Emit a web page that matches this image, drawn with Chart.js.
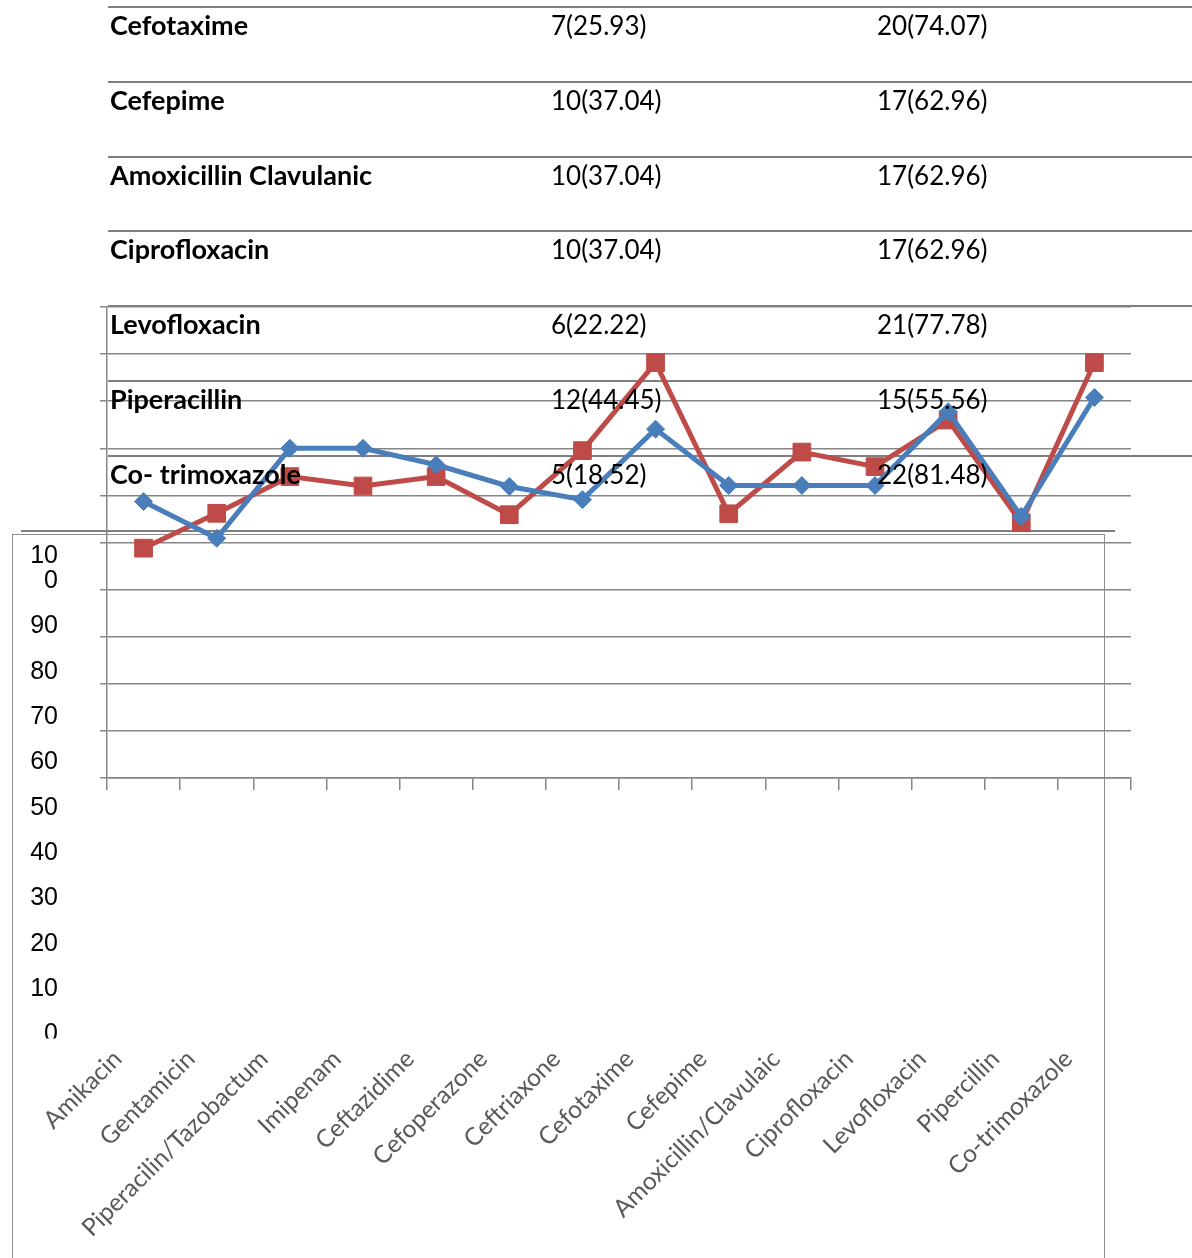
<!DOCTYPE html>
<html>
<head>
<meta charset="utf-8">
<title>Antibiotic resistance</title>
<script src="https://cdn.jsdelivr.net/npm/chart.js@4.4.1/dist/chart.umd.min.js"></script>
<style>
  body { margin: 0; width: 1192px; height: 1258px; overflow: hidden; background: #fff; position: relative; }
  .layer { position: absolute; left: 0; top: 0; width: 1192px; height: 1258px; }
  .rule { position: absolute; height: 2px; background: #7f7f7f; }
  .cell { position: absolute; font-family: Lato, sans-serif; font-size: 26px; line-height: 1; color: #000; white-space: nowrap; z-index: 5; }
  .name { font-weight: bold; font-size: 27px; }
  #frame { position: absolute; left: 12px; top: 534px; width: 1091px; height: 760px; border: 1.5px solid #8e8e8e; }
  #tableEnd { position: absolute; left: 21px; top: 530px; width: 1094px; height: 1.5px; background: #7f7f7f; }
</style>
</head>
<body>
<div id="frame"></div>
<div id="tableEnd"></div>
<div id="table"></div>
<div class="layer"><canvas id="plotChart"></canvas></div>
<div class="layer"><canvas id="axisChart"></canvas></div>

<script>
// --- table rows ---
const tableDrugs = ['Cefotaxime', 'Cefepime', 'Amoxicillin Clavulanic', 'Ciprofloxacin', 'Levofloxacin', 'Piperacillin', 'Co- trimoxazole'];
const tableSensitive = ['7(25.93)', '10(37.04)', '10(37.04)', '10(37.04)', '6(22.22)', '12(44.45)', '5(18.52)'];
const tableResistant = ['20(74.07)', '17(62.96)', '17(62.96)', '17(62.96)', '21(77.78)', '15(55.56)', '22(81.48)'];

// --- chart data ---
const drugs = ['Amikacin', 'Gentamicin', 'Piperacilin/Tazobactum', 'Imipenam', 'Ceftazidime', 'Cefoperazone',
  'Ceftriaxone', 'Cefotaxime', 'Cefepime', 'Amoxicillin/Clavulaic', 'Ciprofloxacin', 'Levofloxacin',
  'Pipercillin', 'Co-trimoxazole'];
const seriesBlue = [58.7, 50.9, 70, 70, 66.5, 61.9, 59.1, 74.07, 62.1, 62.1, 62.1, 77.78, 55.56, 80.8];
const seriesRed = [48.8, 56.2, 64, 62, 64, 55.9, 69.5, 88.2, 56.1, 69.2, 66.1, 76, 54.2, 88.2];
const yMin = 0;
const yMax = 100;
const yStep = 10;

// table rows: rule on top, then the three cells
const table = document.getElementById('table');
tableDrugs.forEach((name, i) => {
  const top = 6 + i * 74.8;
  const rule = document.createElement('div');
  rule.className = 'rule';
  rule.style.cssText = `left:108px;top:${top}px;width:1084px`;
  table.appendChild(rule);
  [[name, 110, 'cell name'], [tableSensitive[i], 551, 'cell'], [tableResistant[i], 877, 'cell']].forEach(([txt, x, cls]) => {
    const d = document.createElement('div');
    d.className = cls;
    d.textContent = txt;
    d.style.left = x + 'px';
    d.style.top = (top + (cls === 'cell' ? 6 : 5)) + 'px';
    table.appendChild(d);
  });
});

const gridGrey = '#868686';

// plot: gridlines, axis lines and the two series
new Chart(document.getElementById('plotChart'), {
  type: 'line',
  data: {
    labels: drugs,
    datasets: [
      {
        data: seriesBlue,
        borderColor: '#4a7ebb',
        backgroundColor: '#4a7ebb',
        borderWidth: 5,
        pointStyle: 'rectRot',
        pointRadius: 9,
        pointBorderWidth: 1,
        tension: 0
      },
      {
        data: seriesRed,
        borderColor: '#be4b48',
        backgroundColor: '#be4b48',
        borderWidth: 5,
        pointStyle: 'rect',
        pointRadius: 12.5,
        pointBorderWidth: 1,
        tension: 0
      }
    ]
  },
  options: {
    responsive: true,
    maintainAspectRatio: false,
    animation: false,
    layout: { padding: { left: 100, top: 307, right: 61, bottom: 468 } },
    plugins: { legend: { display: false }, tooltip: { enabled: false } },
    scales: {
      x: {
        offset: true,
        grid: { offset: true, drawOnChartArea: false, tickLength: 12, color: gridGrey, lineWidth: 1.5 },
        border: { color: gridGrey, width: 1.5 },
        ticks: { display: false },
        afterFit: (s) => { s.height = 12; }
      },
      y: {
        min: yMin,
        max: yMax,
        grid: { tickLength: 7, color: gridGrey, lineWidth: 1.5 },
        border: { color: gridGrey, width: 1.5 },
        ticks: { display: false, stepSize: yStep },
        afterFit: (s) => { s.width = 7; }
      }
    }
  }
});

// the bottom part of the "0" tick label is hidden by the chart frame
const clipZeroLabel = {
  id: 'clipZeroLabel',
  beforeDraw(chart) {
    const ys = chart.scales.y;
    const ctx = chart.ctx;
    ctx.save();
    ctx.beginPath();
    ctx.rect(0, 0, chart.width, chart.height);
    ctx.rect(ys.left, ys.bottom + 4, ys.width, 12);
    ctx.clip('evenodd');
  },
  afterDraw(chart) {
    chart.ctx.restore();
  }
};

// axis labels, drawn as a second chart with no visible lines
new Chart(document.getElementById('axisChart'), {
  type: 'line',
  data: { labels: drugs, datasets: [] },
  plugins: [clipZeroLabel],
  options: {
    responsive: true,
    maintainAspectRatio: false,
    animation: false,
    layout: { padding: { left: 21, top: 581, right: 87, bottom: 0 } },
    plugins: { legend: { display: false }, tooltip: { enabled: false } },
    scales: {
      x: {
        offset: true,
        grid: { display: false, drawTicks: false, tickLength: 0 },
        border: { display: false },
        ticks: {
          autoSkip: false,
          minRotation: 45,
          maxRotation: 45,
          padding: 10,
          color: '#595959',
          font: { family: 'Lato', size: 24.5 }
        },
        afterFit: (s) => { s.height = 223.6; }
      },
      y: {
        min: yMin,
        max: yMax,
        grid: { display: false, drawTicks: false, tickLength: 0 },
        border: { display: false },
        ticks: {
          stepSize: yStep,
          autoSkip: false,
          padding: 23,
          color: '#000',
          font: { family: 'Liberation Sans', size: 25, lineHeight: 1.0 },
          callback: (v) => (v === 100 ? ['10', '0', ''] : String(v))
        },
        afterFit: (s) => { s.width = 60; }
      }
    }
  }
});
</script>
</body>
</html>
